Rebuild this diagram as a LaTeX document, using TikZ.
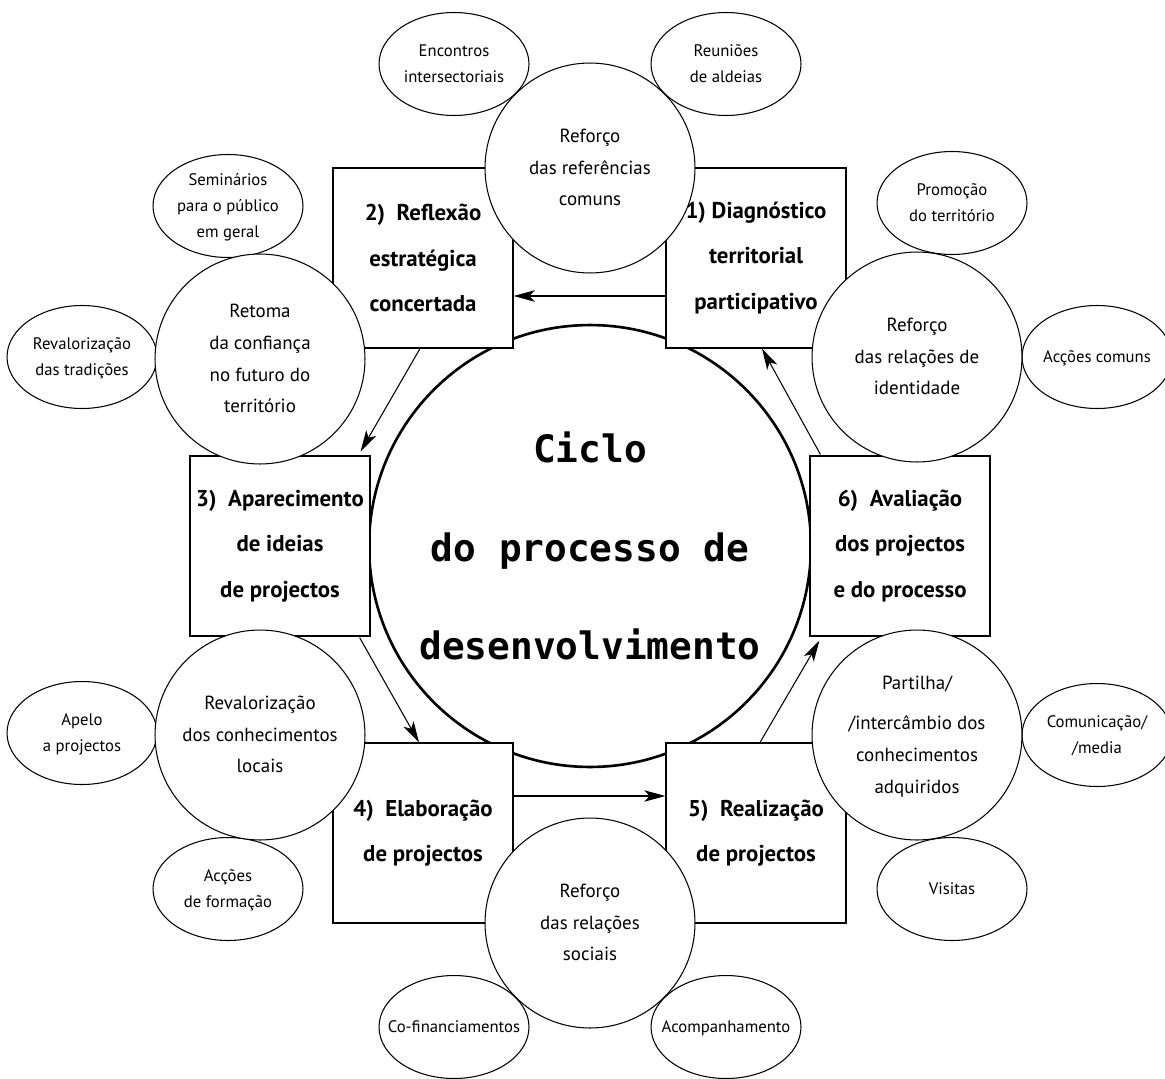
\documentclass[tikz,border=0pt]{standalone}
\usepackage{fontspec}
\setmainfont{PT Sans}
\newfontfamily\hubfont{DejaVu Sans Mono}
\usepackage{tikz}
\usetikzlibrary{shapes,arrows.meta,positioning,calc}

% text of fixed-size round nodes, kept from widening the shape
\newcommand{\flatlines}[1]{\smash{\makebox[0pt]{\raisebox{-0.25em}{\begin{tabular}{@{}c@{}}#1\end{tabular}}}}}

\begin{document}
\begin{tikzpicture}[
    x=0.02cm, y=-0.02cm,
    hub/.style={circle, draw, line width=1.5pt, minimum size=8.84cm, inner sep=0pt},
    hubtext/.style={align=center, font=\hubfont\bfseries\fontsize{21.5}{56}\selectfont},
    stage/.style={rectangle, draw, fill=white, line width=0.7pt, minimum width=3.6cm, minimum height=3.6cm, align=center, font=\bfseries\fontsize{13}{26}\selectfont},
    effect/.style={circle, draw, fill=white, line width=0.6pt, minimum size=4.2cm, inner sep=0pt, font=\fontsize{10.8}{18}\selectfont},
    action/.style={ellipse, draw, fill=white, line width=0.6pt, minimum width=3cm, minimum height=2.06cm, inner sep=0pt, font=\fontsize{9.5}{15}\selectfont},
    flow/.style={-{Stealth[length=12pt, width=6.5pt, inset=3pt]}, line width=0.6pt},
]
\useasboundingbox (0,0) rectangle (1165,1078);

% Central cycle
\node[hub] (hub) at (590,546) {};

% Stages of the cycle
\node[stage] (s1) at (756,258) {1) Diagnóstico\\territorial\\participativo};
\node[stage] (s2) at (423,258) {2)~ Reflexão\\estratégica\\concertada};
\node[stage] (s3) at (280,546) {3)~ Aparecimento\\de ideias\\de projectos};
\node[stage] (s4) at (423,833) {4)~ Elaboração\\de projectos};
\node[stage] (s5) at (756,833) {5)~ Realização\\de projectos};
\node[stage] (s6) at (900,546) {6)~ Avaliação\\dos projectos\\e do processo};

% Actions round the cycle
\node[action] (a1) at (454,64) {\flatlines{Encontros\\intersectoriais}};
\node[action] (a2) at (726,64) {\flatlines{Reuniões\\de aldeias}};
\node[action] (a3) at (228,206) {\flatlines{Seminários\\para o público\\em geral}};
\node[action] (a4) at (82,357) {\flatlines{Revalorização\\das tradições}};
\node[action] (a5) at (952,203) {\flatlines{Promoção\\do território}};
\node[action] (a6) at (1097,357) {\flatlines{Acções comuns}};
\node[action] (a7) at (82,733) {\flatlines{Apelo\\a projectos}};
\node[action] (a8) at (1097,735) {\flatlines{Comunicação/\\/media}};
\node[action] (a9) at (228,889) {\flatlines{Acções\\de formação}};
\node[action] (a10) at (952,889) {\flatlines{Visitas}};
\node[action] (a11) at (454,1027) {\flatlines{Co-financiamentos}};
\node[action] (a12) at (726,1027) {\flatlines{Acompanhamento}};

% Effects between the stages
\node[effect] (e1) at (590,168) {\flatlines{Reforço\\das referências\\comuns}};
\node[effect] (e2) at (260,359) {\flatlines{Retoma\\da confiança\\no futuro do\\território}};
\node[effect] (e3) at (917,357) {\flatlines{Reforço\\das relações de\\identidade}};
\node[effect] (e4) at (260,735) {\flatlines{Revalorização\\dos conhecimentos\\locais}};
\node[effect] (e5) at (917,735) {\flatlines{Partilha/\\[5pt]/intercâmbio dos\\conhecimentos\\adquiridos}};
\node[effect] (e6) at (590,923) {\flatlines{Reforço\\das relações\\sociais}};

% Flow of the cycle
\draw[flow] ($(s1.west)+(0,38)$) -- ($(s2.east)+(0,38)$);
\draw[flow] ($(s2.south)+(-3,0)$) -- ($(s3.north east)+(-10,-4)$);
\draw[flow] ($(s3.south east)+(-11,1)$) -- ($(s4.north)+(-4,0)$);
\draw[flow] ($(s4.east)+(0,-37)$) -- ($(s5.west)+(0,-37)$);
\draw[flow] ($(s5.north)+(4,0)$) -- ($(s6.south west)+(10,4)$);
\draw[flow] ($(s6.north west)+(11,-1)$) -- ($(s1.south)+(6,0)$);

% Title
\node[hubtext] (title) at (hub.center) {Ciclo\\do processo de\\desenvolvimento};

\end{tikzpicture}
\end{document}
